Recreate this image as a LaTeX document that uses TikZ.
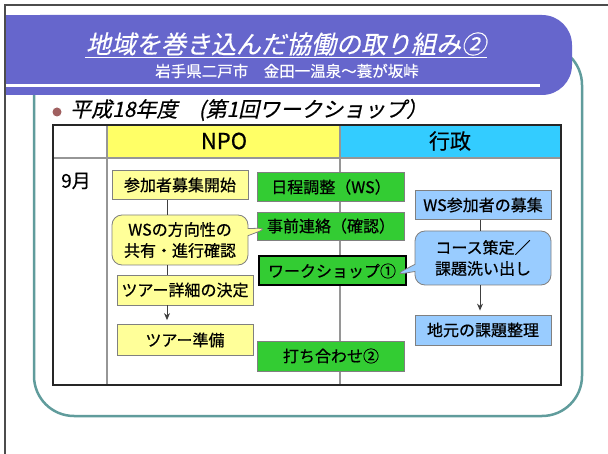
\documentclass[tikz,border=0pt]{standalone}
\usepackage{fontspec}
\setmainfont[FakeBold=0.6]{Noto Sans CJK JP}
\newfontfamily\jpit[FakeSlant=0.22,FakeBold=0.4]{Noto Sans CJK JP}
\usetikzlibrary{shapes.callouts,calc,arrows.meta}
\definecolor{hdrpurple}{RGB}{102,102,204}
\definecolor{frameteal}{RGB}{96,156,156}
\definecolor{bulletrose}{RGB}{160,96,96}
\definecolor{hdryellow}{RGB}{255,255,102}
\definecolor{hdrcyan}{RGB}{51,204,255}
\definecolor{boxyellow}{RGB}{255,255,153}
\definecolor{boxgreen}{RGB}{51,204,51}
\definecolor{boxblue}{RGB}{153,204,255}
\definecolor{boxgray}{RGB}{128,128,128}
\definecolor{gridgray}{RGB}{150,150,150}
\begin{document}
\begin{tikzpicture}[x=1pt,y=-1pt,
  box/.style={draw=boxgray, line width=0.8pt, inner sep=0pt, minimum width=136pt,
    minimum height=29pt, font=\fontsize{16}{21}\selectfont, align=center},
  ybox/.style={box, fill=boxyellow},
  gbox/.style={box, fill=boxgreen, minimum width=147pt},
  bbox/.style={box, fill=boxblue},
  conn/.style={draw=black!75, line width=1pt},
  arr/.style={conn, -{Stealth[length=7pt,width=6pt]}, shorten >=4pt}
]
\useasboundingbox (0,0) rectangle (608,454);
\fill[white] (0,0) rectangle (608,454);
% outer page frame
\draw[black!70, line width=1.5pt] (5,454) -- (5,5) -- (608,5);
% teal frame
\draw[frameteal, line width=2.5pt, rounded corners=40pt] (34,45) rectangle (582,416);
% purple header
\fill[hdrpurple, rounded corners=30pt] (40,15) -- (572,15) -- (572,95) -- (40,95) [sharp corners] -- cycle;
\fill[hdrpurple] (6,15) rectangle (80,95);
\draw[white, line width=3pt] (6,86) -- (540,86);
\node[text=white, font=\jpit\fontsize{25}{28}\selectfont, inner sep=1pt] (title) at (286,44) {地域を巻き込んだ協働の取り組み②};
\draw[white, line width=1pt] ([yshift=-1pt]title.south west) -- ([yshift=-1pt]title.south east);
\node[text=white, font=\fontsize{15.5}{18}\selectfont] (subtitle) at (287,71) {岩手県二戸市　金田一温泉～蓑が坂峠};
% bullet line
\fill[bulletrose] (57,112) circle (4.5pt);
\node[anchor=west, font=\jpit\fontsize{21}{24}\selectfont, inner sep=0pt] (bullettext) at (70,110) {平成18年度　(第1回ワークショップ）};
% table
\fill[hdryellow] (107,125) rectangle (340,158);
\fill[hdrcyan] (340,125) rectangle (561,158);
\draw[gridgray, line width=1.2pt] (53,158) -- (561,158);
\draw[gridgray, line width=1.2pt] (107,125) -- (107,385);
\draw[gridgray, line width=1.2pt] (340,125) -- (340,385);
\draw[black!85, line width=1.8pt] (53,125) rectangle (561,385);
\node[font=\fontsize{22}{24}\selectfont] (npo) at (224,141) {NPO};
\node[font=\fontsize{21}{24}\selectfont] (gyosei) at (450,141) {行政};
\node[font=\fontsize{19}{22}\selectfont] (month) at (76,181) {9月};
% green boxes
\node[gbox] (g1) at (331,187) {日程調整（WS）};
\node[gbox, minimum height=28pt] (g2) at (331,226) {事前連絡（確認）};
\node[gbox, draw=black, line width=2pt] (g3) at (332,271) {ワークショップ①};
\node[gbox, minimum height=30pt] (g4) at (331,356) {打ち合わせ②};
% yellow boxes
\node[ybox] (n1) at (180,185) {参加者募集開始};
\node[ybox, rectangle callout, rounded corners=10pt, minimum height=50pt,
  callout absolute pointer={($(g2.west)+(11,2)$)}] (n2) at (180,240) {WSの方向性の\\共有・進行確認};
\node[ybox, minimum height=30pt] (n3) at (185,290) {ツアー詳細の決定};
\node[ybox, minimum height=31pt] (n4) at (185,340) {ツアー準備};
% blue boxes
\node[bbox] (b1) at (483,205) {WS参加者の募集};
\node[bbox, rectangle callout, rounded corners=10pt, minimum height=54pt,
  callout absolute pointer={($(g3.east)+(-12,4)$)}] (b2) at (483,258) {コース策定／\\課題洗い出し};
\node[bbox, minimum height=30pt] (b3) at (483,330) {地元の課題整理};
% connectors
\coordinate (lx) at (167,0);
\coordinate (rx) at (480,0);
\draw[conn] (n1.south -| lx) -- (n2.north -| lx);
\draw[conn] (n2.south -| lx) -- (n3.north -| lx);
\draw[arr] (n3.south -| lx) -- (n4.north -| lx);
\draw[conn] (b1.south -| rx) -- (b2.north -| rx);
\draw[arr] (b2.south -| rx) -- (b3.north -| rx);
\end{tikzpicture}
\end{document}
